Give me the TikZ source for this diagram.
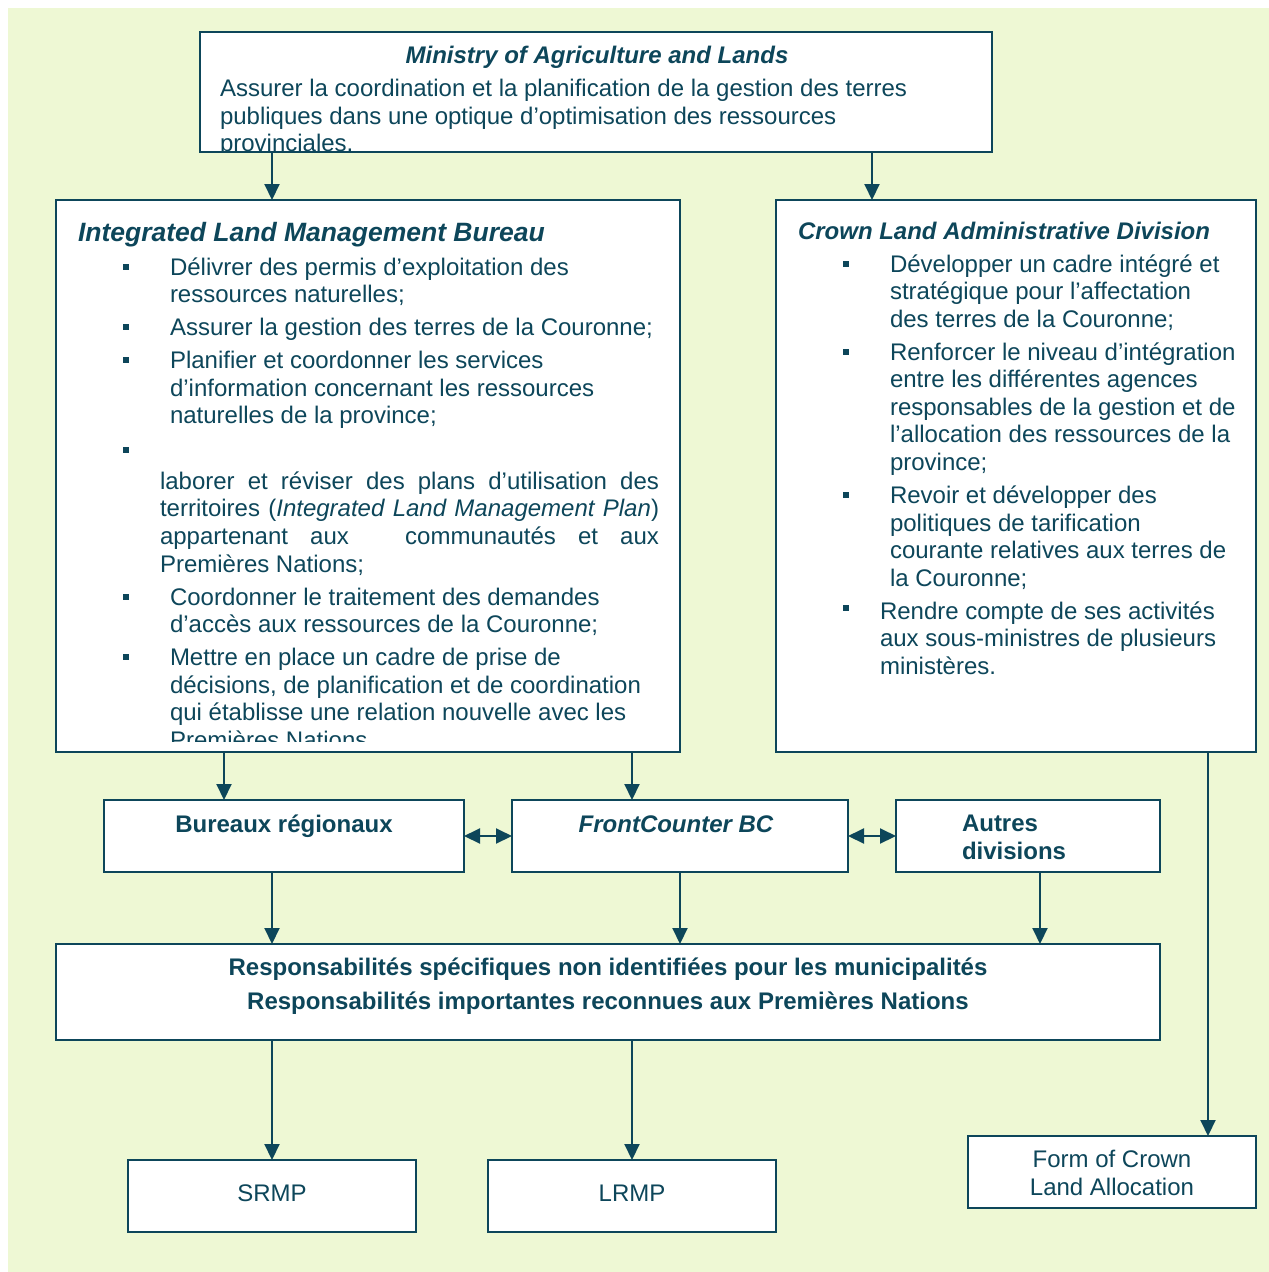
\documentclass[tikz,border=0pt]{standalone}
\usepackage{fontspec}
\setmainfont{Liberation Sans}
\usetikzlibrary{arrows.meta}
\definecolor{bg}{RGB}{238,248,212}
\definecolor{ink}{RGB}{13,70,90}
\begin{document}
\begin{tikzpicture}[x=1pt,y=-1pt,
  box/.style={draw=ink,line width=2pt,fill=white,inner sep=0pt,outer sep=0pt},
  txt/.style={anchor=base west,inner sep=0pt,outer sep=0pt,text=ink,font=\fontsize{24}{27.6}\selectfont},
  ctxt/.style={txt,anchor=base},
  btxt/.style={ctxt,font=\fontsize{24}{27.6}\selectfont\bfseries},
  bul/.style={rectangle,fill=ink,minimum size=6pt,inner sep=0pt},
  arr/.style={draw=ink,line width=2pt,-{Triangle[width=15pt,length=16pt]}},
  darr/.style={draw=ink,line width=2pt,{Triangle[width=15pt,length=16pt]}-{Triangle[width=15pt,length=16pt]}}]
\useasboundingbox (0,0) rectangle (1269,1272);
\fill[bg] (8,8) rectangle (1269,1272);

% boxes
\node[box,minimum width=792pt,minimum height=120pt] (mal) at (596,92) {};
\node[box,minimum width=624pt,minimum height=552pt] (ilmb) at (368,476) {};
\node[box,minimum width=480pt,minimum height=552pt] (clad) at (1016,476) {};
\node[box,minimum width=360pt,minimum height=72pt] (bur) at (284,836) {};
\node[box,minimum width=336pt,minimum height=72pt] (fc) at (680,836) {};
\node[box,minimum width=264pt,minimum height=72pt] (aut) at (1028,836) {};
\node[box,minimum width=1104pt,minimum height=96pt] (resp) at (608,992) {};
\node[box,minimum width=288pt,minimum height=72pt] (srmp) at (272,1196) {};
\node[box,minimum width=288pt,minimum height=72pt] (lrmp) at (632,1196) {};
\node[box,minimum width=288pt,minimum height=72pt] (form) at (1112,1172) {};

\begin{scope}[yshift=1pt]
% Ministry text
\node[ctxt,font=\fontsize{24}{27.6}\selectfont\bfseries\itshape] (malt) at (597,64) {Ministry of Agriculture and Lands};
\begin{scope}
\clip (201,34) rectangle (991,151);
\node[txt] (mal1) at (220,97) {Assurer la coordination et la planification de la gestion des terres};
\node[txt] (mal2) at (220,125) {publiques dans une optique d’optimisation des ressources};
\node[txt] (mal3) at (220,152) {provinciales.};
\end{scope}

% ILMB text
\node[txt,font=\fontsize{26.5}{30}\selectfont\bfseries\itshape] (ilmbt) at (78,242) {Integrated Land Management Bureau};
\node[bul] (ib1) at (126,268) {};
\node[txt] (i11) at (170,276) {Délivrer des permis d’exploitation des};
\node[txt] (i12) at (170,303) {ressources naturelles;};
\node[bul] (ib2) at (126,328) {};
\node[txt] (i21) at (170,336) {Assurer la gestion des terres de la Couronne;};
\node[bul] (ib3) at (126,361) {};
\node[txt] (i31) at (170,369) {Planifier et coordonner les services};
\node[txt] (i32) at (170,397) {d’information concernant les ressources};
\node[txt] (i33) at (170,424) {naturelles de la province;};
\node[bul] (ib4) at (126,451) {};
\node[txt] (i41) at (160,490) {\makebox[499pt][s]{laborer et réviser des plans d’utilisation des}};
\node[txt] (i42) at (160,517) {\makebox[499pt][s]{territoires (\textit{Integrated Land Management Plan})}};
\node[txt] (i43) at (160,545) {\makebox[499pt][s]{appartenant aux \hspace{12pt} communautés et aux}};
\node[txt] (i44) at (160,573) {Premières Nations;};
\node[bul] (ib5) at (126,598) {};
\node[txt] (i51) at (170,606) {Coordonner le traitement des demandes};
\node[txt] (i52) at (170,633) {d’accès aux ressources de la Couronne;};
\node[bul] (ib6) at (126,658) {};
\begin{scope}
\clip (57,640) rectangle (679,742);
\node[txt] (i61) at (170,666) {Mettre en place un cadre de prise de};
\node[txt] (i62) at (170,694) {décisions, de planification et de coordination};
\node[txt] (i63) at (170,721) {qui établisse une relation nouvelle avec les};
\node[txt] (i64) at (170,749) {Premières Nations};
\end{scope}

% CLAD text
\node[txt,font=\fontsize{24}{27.6}\selectfont\bfseries\itshape] (cladt) at (798,240) {Crown Land Administrative Division};
\node[bul] (cb1) at (846,265) {};
\node[txt] (c11) at (890,273) {Développer un cadre intégré et};
\node[txt] (c12) at (890,300) {stratégique pour l’affectation};
\node[txt] (c13) at (890,328) {des terres de la Couronne;};
\node[bul] (cb2) at (846,353) {};
\node[txt] (c21) at (890,361) {Renforcer le niveau d’intégration};
\node[txt] (c22) at (890,388) {entre les différentes agences};
\node[txt] (c23) at (890,416) {responsables de la gestion et de};
\node[txt] (c24) at (890,443) {l’allocation des ressources de la};
\node[txt] (c25) at (890,471) {province;};
\node[bul] (cb3) at (846,496) {};
\node[txt] (c31) at (890,504) {Revoir et développer des};
\node[txt] (c32) at (890,532) {politiques de tarification};
\node[txt] (c33) at (890,559) {courante relatives aux terres de};
\node[txt] (c34) at (890,587) {la Couronne;};
\node[bul] (cb4) at (846,609) {};
\node[txt] (c41) at (880,620) {Rendre compte de ses activités};
\node[txt] (c42) at (880,647) {aux sous-ministres de plusieurs};
\node[txt] (c43) at (880,675) {ministères.};

% small boxes text
\node[btxt] (burt) at (284,833) {Bureaux régionaux};
\node[btxt,font=\fontsize{24}{27.6}\selectfont\bfseries\itshape] (fct) at (676,833) {FrontCounter BC};
\node[txt,font=\fontsize{24}{27.6}\selectfont\bfseries] (aut1) at (962,832) {Autres};
\node[txt,font=\fontsize{24}{27.6}\selectfont\bfseries] (aut2) at (962,860) {divisions};
\node[btxt] (resp1) at (608,976) {Responsabilités spécifiques non identifiées pour les municipalités};
\node[btxt] (resp2) at (608,1010) {Responsabilités importantes reconnues aux Premières Nations};
\node[ctxt] (srmpt) at (272,1202) {SRMP};
\node[ctxt] (lrmpt) at (632,1202) {LRMP};
\node[ctxt] (form1) at (1112,1168) {Form of Crown};
\node[ctxt] (form2) at (1112,1196) {Land Allocation};
\end{scope}

% connectors
\draw[arr] ([xshift=72pt]mal.south west) -- ([xshift=216pt]ilmb.north west);
\draw[arr] ([xshift=672pt]mal.south west) -- ([xshift=96pt]clad.north west);
\draw[arr] ([xshift=168pt]ilmb.south west) -- ([xshift=120pt]bur.north west);
\draw[arr] ([xshift=576pt]ilmb.south west) -- ([xshift=120pt]fc.north west);
\draw[darr] (bur.east) -- (fc.west);
\draw[darr] (fc.east) -- (aut.west);
\draw[arr] ([xshift=168pt]bur.south west) -- ([xshift=216pt]resp.north west);
\draw[arr] (fc.south) -- (fc.south |- resp.north);
\draw[arr] ([xshift=144pt]aut.south west) -- ([xshift=984pt]resp.north west);
\draw[arr] (srmp.north |- resp.south) -- (srmp.north);
\draw[arr] (lrmp.north |- resp.south) -- (lrmp.north);
\draw[arr] ([xshift=432pt]clad.south west) -- ([xshift=240pt]form.north west);
\end{tikzpicture}
\end{document}
